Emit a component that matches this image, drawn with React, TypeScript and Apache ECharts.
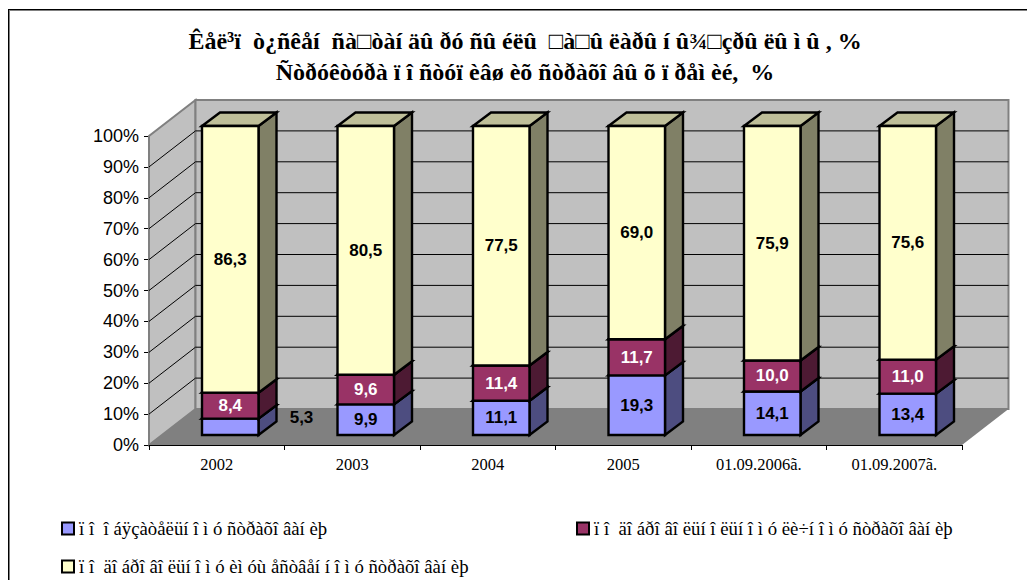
import React, { useEffect, useRef } from "react";
import * as echarts from "echarts";

const categories = ["2002", "2003", "2004", "2005", "01.09.2006ã.", "01.09.2007ã."];
const obligatory = [5.3, 9.9, 11.1, 19.3, 14.1, 13.4];
const voluntaryPersonal = [8.4, 9.6, 11.4, 11.7, 10.0, 11.0];
const voluntaryProperty = [86.3, 80.5, 77.5, 69.0, 75.9, 75.6];
const seriesNames = [
  "ï î  î áÿçàòåëüí î ì ó ñòðàõî âàí èþ",
  "ï î  äî áðî âî ëüí î ëüí î ì ó ëè÷í î ì ó ñòðàõî âàí èþ",
  "ï î  äî áðî âî ëüí î ì ó èì óù åñòâåí í î ì ó ñòðàõî âàí èþ",
];
const titleLines = [
  "Êåë³ï  ò¿ñêåí  ñà□òàí äû ðó ñû éëû  □à□û ëàðû í û¾□çðû ëû ì û , %",
  "Ñòðóêòóðà ï î ñòóï èâø èõ ñòðàõî âû õ ï ðåì èé,  %",
];
const yTicks = [0, 10, 20, 30, 40, 50, 60, 70, 80, 90, 100];

const WALL_DX = 46.5;
const WALL_DY = -36;
const BAR_DX = 18;
const BAR_DY = -13.5;
const BAR_SHIFT_X = 13.5;
const BAR_SHIFT_Y = -10;
const BAR_W = 56.5;

const colors = [
  { front: "#9999FF", side: "#4D4D80", top: "#7373BF", label: "#000000" },
  { front: "#993366", side: "#4D1A33", top: "#73264D", label: "#FFFFFF" },
  { front: "#FFFFCC", side: "#808066", top: "#BFBF99", label: "#000000" },
];
const stacks = [obligatory, voluntaryPersonal, voluntaryProperty];

function wallsItem(params: any, api: any) {
  const x0 = params.coordSys.x;
  const x1 = x0 + params.coordSys.width;
  const yb = api.coord([0, 0])[1];
  const yt = api.coord([0, 100])[1];
  const children: any[] = [
    {
      type: "polygon",
      shape: { points: [[x0, yb], [x0 + WALL_DX, yb + WALL_DY], [x1 + WALL_DX, yb + WALL_DY], [x1, yb]] },
      style: { fill: "#808080" },
    },
    {
      type: "polygon",
      shape: { points: [[x0, yb], [x0 + WALL_DX, yb + WALL_DY], [x0 + WALL_DX, yt + WALL_DY], [x0, yt]] },
      style: { fill: "#C0C0C0", stroke: "#808080", lineWidth: 2 },
    },
    {
      type: "rect",
      shape: { x: x0 + WALL_DX, y: yt + WALL_DY, width: x1 - x0, height: yb - yt },
      style: { fill: "#C0C0C0", stroke: "#808080", lineWidth: 2 },
    },
  ];
  yTicks.slice(1, -1).forEach((v) => {
    const y = api.coord([0, v])[1];
    children.push({
      type: "polyline",
      shape: { points: [[x0, y], [x0 + WALL_DX, y + WALL_DY], [x1 + WALL_DX, y + WALL_DY]] },
      style: { stroke: "#000000", lineWidth: 1, fill: "none" },
    });
  });
  children.push({
    type: "line",
    shape: { x1: x0 + WALL_DX, y1: yb + WALL_DY, x2: x1 + WALL_DX, y2: yb + WALL_DY },
    style: { stroke: "#808080", lineWidth: 1 },
  });
  return { type: "group", children };
}

function barItem(k: number) {
  return (params: any, api: any) => {
    const i = params.dataIndex;
    const base = stacks.slice(0, k).reduce((s, arr) => s + arr[i], 0);
    const v = stacks[k][i];
    const c = api.coord([i, base]);
    const t = api.coord([i, base + v]);
    const xl = c[0] + BAR_SHIFT_X - BAR_W / 2;
    const xr = xl + BAR_W;
    const yb = c[1] + BAR_SHIFT_Y;
    const yt = t[1] + BAR_SHIFT_Y;
    const stroke = { stroke: "#000000", lineWidth: 2.4, lineJoin: "miter" };
    const outside = k === 0 && i === 0;
    return {
      type: "group",
      children: [
        {
          type: "polygon",
          shape: { points: [[xr, yb], [xr + BAR_DX, yb + BAR_DY], [xr + BAR_DX, yt + BAR_DY], [xr, yt]] },
          style: { fill: colors[k].side, ...stroke },
        },
        {
          type: "polygon",
          shape: { points: [[xl, yt], [xl + BAR_DX, yt + BAR_DY], [xr + BAR_DX, yt + BAR_DY], [xr, yt]] },
          style: { fill: colors[k].top, ...stroke },
        },
        {
          type: "rect",
          shape: { x: xl, y: yt, width: BAR_W, height: yb - yt },
          style: { fill: colors[k].front, ...stroke },
        },
        {
          type: "text",
          x: outside ? xr + BAR_DX + 25 : (xl + xr) / 2,
          y: outside ? yb - 18 : (yb + yt) / 2,
          style: {
            text: v.toFixed(1).replace(".", ","),
            fill: colors[k].label,
            font: 'bold 17px "Liberation Sans", Arial, sans-serif',
            textAlign: "center",
            textVerticalAlign: "middle",
          },
        },
      ],
    };
  };
}

const legendText = { fontFamily: '"Liberation Serif", serif', fontSize: 18.8, color: "#000000" };
const legendBase = {
  orient: "horizontal",
  itemWidth: 12,
  itemHeight: 12,
  itemGap: 4,
  icon: "rect",
  textStyle: legendText,
  itemStyle: { borderColor: "#000000", borderWidth: 2 },
};

export default function App() {
  const ref = useRef<HTMLDivElement>(null);
  useEffect(() => {
    const chart = echarts.init(ref.current!, null, { renderer: "svg" });
    chart.setOption({
      animation: false,
      backgroundColor: "#FFFFFF",
      title: {
        text: titleLines.join("\n"),
        left: 520,
        top: 20,
        textAlign: "center",
        textStyle: { fontFamily: '"Liberation Serif", serif', fontWeight: "bold", fontSize: 24, lineHeight: 31, color: "#000000" },
      },
      grid: { left: 149, top: 136, right: 65, bottom: 135 },
      xAxis: {
        type: "category",
        data: categories,
        axisLine: { lineStyle: { color: "#000000", width: 1 } },
        axisTick: { show: true, length: 5, alignWithLabel: false, lineStyle: { color: "#000000" } },
        axisLabel: { fontFamily: '"Liberation Serif", serif', fontSize: 16.5, color: "#000000", margin: 11 },
        splitLine: { show: false },
        z: 10,
      },
      yAxis: {
        type: "value",
        min: 0,
        max: 100,
        interval: 10,
        axisLine: { show: true, lineStyle: { color: "#808080", width: 1 } },
        axisTick: { show: true, length: 5, lineStyle: { color: "#000000" } },
        axisLabel: { formatter: "{value}%", fontFamily: '"Liberation Sans", Arial, sans-serif', fontSize: 18, color: "#000000", margin: 10 },
        splitLine: { show: false },
      },
      legend: [
        { ...legendBase, data: [seriesNames[0]], left: 56, top: 514 },
        { ...legendBase, data: [seriesNames[1]], left: 571, top: 514 },
        { ...legendBase, data: [seriesNames[2]], left: 56, top: 552 },
      ],
      graphic: [
        { type: "line", shape: { x1: 8, y1: 9.5, x2: 1027, y2: 9.5 }, style: { stroke: "#000000", lineWidth: 1 } },
        { type: "line", shape: { x1: 9, y1: 10.5, x2: 1027, y2: 10.5 }, style: { stroke: "#808080", lineWidth: 1 } },
        { type: "line", shape: { x1: 8.5, y1: 9, x2: 8.5, y2: 580 }, style: { stroke: "#000000", lineWidth: 1 } },
        { type: "line", shape: { x1: 9.5, y1: 10, x2: 9.5, y2: 580 }, style: { stroke: "#808080", lineWidth: 1 } },
      ],
      series: [
        {
          type: "custom",
          name: "walls",
          renderItem: wallsItem,
          data: [0],
          silent: true,
          z: 1,
          clip: false,
        },
        ...seriesNames.map((name, k) => ({
          type: "custom",
          name,
          renderItem: barItem(k),
          data: stacks[k].map((v, i) => [i, v]),
          encode: { x: 0, y: 1 },
          itemStyle: { color: colors[k].front, borderColor: "#000000", borderWidth: 2 },
          z: 2 + k,
          clip: false,
        })),
      ],
    });
    return () => chart.dispose();
  }, []);
  return (
    <div
      ref={ref}
      style={{ position: "absolute", left: 0, top: 0, width: 1027, height: 580 }}
    />
  );
}
